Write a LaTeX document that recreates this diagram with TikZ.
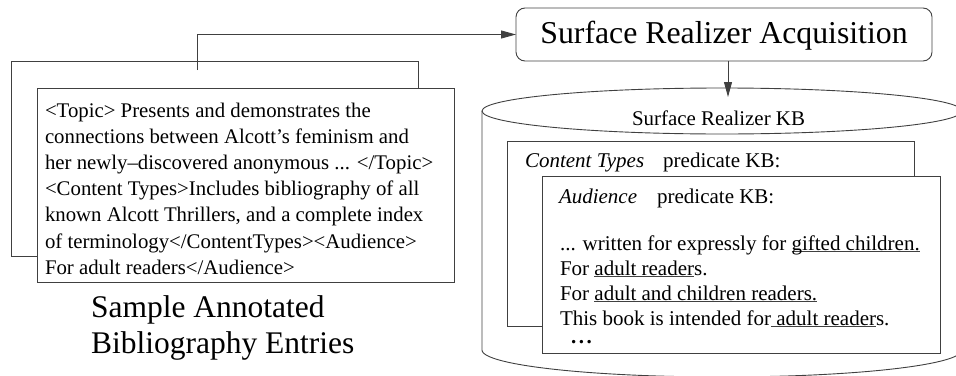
\documentclass[tikz,border=0pt]{standalone}
\usepackage{fontspec}
\setmainfont{Liberation Serif}
\usetikzlibrary{arrows.meta,shapes.geometric}
\definecolor{strk}{gray}{0.25}
\newcommand\ulin[1]{\setbox0\hbox{#1}\rlap{\color{strk}\rule[-1.6pt]{\wd0}{0.8pt}}\box0}
\begin{document}
\begin{tikzpicture}[x=1pt,y=-1pt,line width=0.9pt,
  every node/.style={inner sep=0pt,outer sep=0pt},
  boxst/.style={draw=strk,fill=white,anchor=north west},
  arr/.style={draw=strk,-{Triangle[length=15pt,width=8pt]}},
  ftxt/.style={anchor=base west,font=\fontsize{20.8}{25}\selectfont},
  captxt/.style={anchor=base west,font=\fontsize{31.5}{36}\selectfont},
  ktxt/.style={anchor=base west,font=\fontsize{21}{25}\selectfont}]
\useasboundingbox (0,0) rectangle (956,375);
\clip (0,0) rectangle (956,375);
% left: annotated bibliography entries
\node[boxst,minimum width=407pt,minimum height=195pt] (back) at (11,61) {};
\node[boxst,minimum width=417pt,minimum height=194pt] (front) at (37,88) {};
\node[ftxt] (t1) at (45,117) {<Topic> Presents and demonstrates the};
\node[ftxt] (t2) at (45,143.2) {connections between Alcott's feminism and};
\node[ftxt] (t3) at (45,169.4) {her newly--discovered anonymous ... </Topic>};
\node[ftxt] (t4) at (45,195.6) {<Content Types>Includes bibliography of all};
\node[ftxt] (t5) at (45,221.8) {known Alcott Thrillers, and a complete index};
\node[ftxt] (t6) at (45,248) {of terminology</ContentTypes><Audience>};
\node[ftxt] (t7) at (45,274.2) {For adult readers</Audience>};
\node[captxt] (cap1) at (91,317) {Sample Annotated};
\node[captxt] (cap2) at (91,353) {Bibliography Entries};
% acquisition box
\node[draw=strk,rounded corners=9pt,minimum width=416pt,minimum height=53pt,
  text height=22pt,text depth=4pt,font=\fontsize{31.8}{36}\selectfont] (sra) at (724,34.5) {Surface Realizer Acquisition};
\coordinate (src) at (197,70);
\draw[arr] (src) |- (sra.west);
% knowledge base cylinder
\draw[draw=strk] (482,111) -- (482,350) -- plot[domain=180:360,samples=90] ({722+240*cos(\x)},{350-27*sin(\x)}) -- (962,111);
\node[draw=strk,ellipse,minimum width=480pt,minimum height=46pt] (kb) at (722,111) {};
\node[anchor=base,font=\fontsize{20.9}{25}\selectfont] (kbl) at (718.5,125) {Surface Realizer KB};
\coordinate (kbtip) at (728,97);
\draw[arr] (sra.south -| kbtip) -- (kbtip);
% predicate KBs
\node[boxst,minimum width=407pt,minimum height=185pt] (ctbox) at (507,141) {};
\node[ktxt] (ctl) at (525,167) {\itshape Content Types\upshape\hspace{19pt}predicate KB:};
\node[boxst,minimum width=398pt,minimum height=177pt] (aubox) at (542,176) {};
\node[ktxt] (aul) at (559,203) {\itshape Audience\upshape\hspace{20pt}predicate KB:};
\node[ktxt] (a1) at (560,250.5) {... written for expressly for \ulin{gifted children.}};
\node[ktxt] (a2) at (560,275) {For \ulin{adult reader}s.};
\node[ktxt] (a3) at (560,300) {For \ulin{adult and children readers.}};
\node[ktxt] (a4) at (560,325) {This book is intended for\ulin{ adult reader}s.};
\node[ktxt] (a5) at (571,343) {\bfseries .\hspace{2.6pt}.\hspace{2.6pt}.};
\end{tikzpicture}
\end{document}
